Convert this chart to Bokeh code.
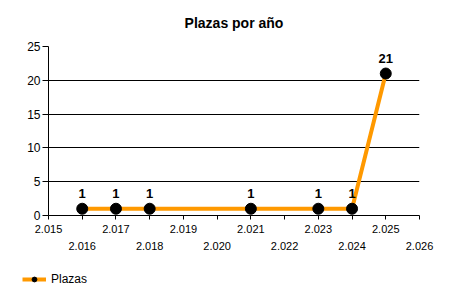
from bokeh.plotting import figure
from bokeh.models import Range1d, FixedTicker, LinearAxis, Legend, LegendItem, ColumnDataSource, LabelSet
from bokeh.core.properties import value
from bokeh.embed import file_html
from bokeh.resources import INLINE

title = "Plazas por año"
series_name = "Plazas"
years = [2016, 2017, 2018, 2021, 2023, 2024, 2025]
plazas = [1, 1, 1, 1, 1, 1, 21]
x_ticks = list(range(2015, 2027))
y_ticks = [0, 5, 10, 15, 20, 25]

def fmt(y):
    s = str(y)
    return s[0] + "." + s[1:]

FONT = "Liberation Sans"
ORANGE = "#FF9900"

p = figure(width=450, height=265, output_backend="svg", toolbar_location=None,
           x_range=Range1d(2015, 2026), y_range=Range1d(0, 25),
           x_axis_location=None, y_axis_location=None,
           min_border_left=48, min_border_right=31, min_border_top=46, min_border_bottom=50)
p.title.text = title
p.title.align = "center"
p.title.text_font = FONT
p.title.text_font_size = "14px"
p.title.text_font_style = "bold"
p.title.text_color = "black"
p.title.standoff = 27
p.title.vertical_align = "top"
p.outline_line_color = None
p.background_fill_color = "white"
p.border_fill_color = "white"

# y axis
yax = LinearAxis(ticker=FixedTicker(ticks=y_ticks))
yax.major_tick_out = 6
yax.major_tick_in = 0
yax.minor_tick_line_color = None
yax.axis_line_color = "black"
yax.major_tick_line_color = "black"
yax.major_label_text_font = FONT
yax.major_label_text_font_size = "12px"
yax.major_label_text_color = "black"
yax.major_label_standoff = 2
p.add_layout(yax, "left")

# x axis row 1 (odd years labelled)
xax = LinearAxis(ticker=FixedTicker(ticks=x_ticks))
xax.major_tick_out = 4
xax.major_tick_in = 0
xax.minor_tick_line_color = None
xax.axis_line_color = "black"
xax.major_tick_line_color = "black"
xax.major_label_text_font = FONT
xax.major_label_text_font_size = "11px"
xax.major_label_text_color = "black"
xax.major_label_standoff = 5
xax.major_label_overrides = {y: (fmt(y) if (y - 2015) % 2 == 0 else "") for y in x_ticks}
p.add_layout(xax, "below")

# x axis row 2 (even years labelled)
xax2 = LinearAxis(ticker=FixedTicker(ticks=[y for y in x_ticks if (y - 2015) % 2 == 1]))
xax2.axis_line_color = None
xax2.major_tick_line_color = None
xax2.minor_tick_line_color = None
xax2.major_tick_out = 0
xax2.major_tick_in = 0
xax2.major_label_text_font = FONT
xax2.major_label_text_font_size = "11px"
xax2.major_label_text_color = "black"
xax2.major_label_standoff = 6
xax2.major_label_overrides = {y: fmt(y) for y in x_ticks if (y - 2015) % 2 == 1}
p.add_layout(xax2, "below")

p.xgrid.visible = False
p.ygrid.ticker = FixedTicker(ticks=y_ticks)
p.ygrid.grid_line_color = "black"
p.ygrid.grid_line_width = 1

src = ColumnDataSource(dict(x=years, y=plazas, lbl=[str(v) for v in plazas]))
ln = p.line("x", "y", source=src, line_color=ORANGE, line_width=4)
sc = p.scatter("x", "y", source=src, size=11, fill_color="black", line_color="black")

labels = LabelSet(x="x", y="y", text="lbl", source=src, y_offset=11, text_align="center",
                  text_baseline="bottom", text_font=value(FONT), text_font_size="13px",
                  text_font_style="bold", text_color="black")
p.add_layout(labels)

# legend strip (legend glyphs reference off-screen copies of the series style)
lg = figure(width=450, height=35, output_backend="svg", toolbar_location=None,
            x_range=Range1d(0, 1), y_range=Range1d(0, 1),
            x_axis_location=None, y_axis_location=None,
            min_border_left=0, min_border_right=0, min_border_top=0, min_border_bottom=0)
lg.outline_line_color = None
lg.xgrid.visible = False
lg.ygrid.visible = False
lsrc = ColumnDataSource(dict(x=[-10, -9], y=[-10, -10]))
lln = lg.line("x", "y", source=lsrc, line_color=ORANGE, line_width=4)
lsc = lg.scatter("x", "y", source=lsrc, size=7, fill_color="black", line_color="black")
legend = Legend(items=[LegendItem(label=series_name, renderers=[lln, lsc])],
                location=(22, 14), orientation="horizontal",
                label_text_font=FONT, label_text_font_size="12px", label_text_color="black",
                border_line_color=None, background_fill_alpha=0,
                glyph_width=24, glyph_height=12, label_standoff=5, margin=0, padding=0)
lg.add_layout(legend)

open("out.html", "w").write(file_html([p, lg], INLINE))
